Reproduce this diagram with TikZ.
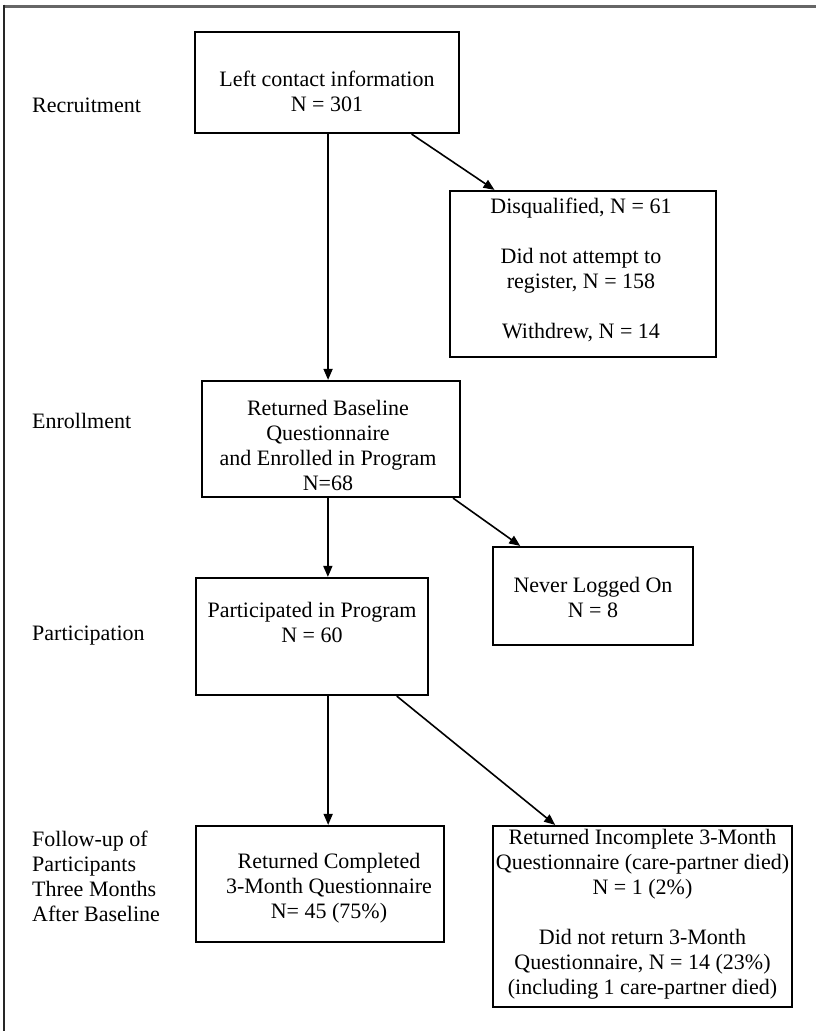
\documentclass[tikz,border=0pt]{standalone}
\usepackage{fontspec}
\setmainfont{Liberation Serif}
\usetikzlibrary{calc,arrows.meta}
\begin{document}
\begin{tikzpicture}[x=1pt,y=-1pt,
  every node/.style={font=\fontsize{22}{25}\selectfont, inner sep=0pt},
  box/.style={draw=black, line width=2.2pt, rectangle},
  txt/.style={align=center},
  side/.style={anchor=west, align=left},
  arr/.style={line width=1.6pt, -{Triangle[length=11pt,width=9pt]}}]
\useasboundingbox (0,0) rectangle (816,1031);
\fill[white] (0,0) rectangle (816,1031);
\draw[line width=3pt, draw=gray!80!black] (4,6) -- (816,6);
\draw[line width=2pt, draw=black!85] (4,4.5) -- (4,1031);

\node[box, minimum width=264pt, minimum height=101pt,
  label={[txt,yshift=-9pt]center:{Left contact information\\N = 301}}] (b1) at (327,82.5) {};
\node[box, minimum width=266pt, minimum height=166pt,
  label={[txt,xshift=-2pt,yshift=4pt]center:{Disqualified, N = 61\\[25pt]Did not attempt to\\register, N = 158\\[25pt]Withdrew, N = 14}}] (b2) at (583,274) {};
\node[box, minimum width=258pt, minimum height=116pt,
  label={[txt,xshift=-3pt,yshift=-6.5pt]center:{Returned Baseline\\Questionnaire\\and Enrolled in Program\\N=68}}] (b3) at (331,439) {};
\node[box, minimum width=200pt, minimum height=98pt,
  label={[txt,yshift=-1.5pt]center:{Never Logged On\\N = 8}}] (b3n) at (593,596) {};
\node[box, minimum width=232pt, minimum height=117pt,
  label={[txt,yshift=14pt]center:{Participated in Program\\N = 60}}] (b4) at (312,636.5) {};
\node[box, minimum width=248pt, minimum height=116pt,
  label={[txt,xshift=9pt,yshift=-4.5pt]center:{Returned Completed\\3-Month Questionnaire\\N= 45 (75\%)}}] (b5) at (320,884) {};
\node[box, minimum width=299pt, minimum height=181pt,
  label={[txt,yshift=2.5pt]center:{Returned Incomplete 3-Month\\Questionnaire (care-partner died)\\N = 1 (2\%)\\[25pt]Did not return 3-Month\\Questionnaire, N = 14 (23\%)\\(including 1 care-partner died)}}] (b6) at (642.5,916.5) {};

\node[side] (lr) at (32,105) {Recruitment};
\node[side] (le) at (32,421) {Enrollment};
\node[side] (lp) at (32,636) {Participation};
\node[side] (lf) at (32,876.5) {Follow-up of\\Participants\\Three Months\\After Baseline};

\coordinate (s1) at ($(b1.south west)!0.504!(b1.south east)$);
\coordinate (s2) at ($(b3.south west)!0.488!(b3.south east)$);
\coordinate (s3) at ($(b4.south west)!0.569!(b4.south east)$);
\draw[arr] (s1) -- (s1 |- b3.north);
\draw[arr] (s2) -- (s2 |- b4.north);
\draw[arr] (s3) -- (s3 |- b5.north);
\draw[arr] ($(b1.south west)!0.818!(b1.south east)$) -- ($(b2.north west)!0.17!(b2.north east)$);
\draw[arr] ($(b3.south west)!0.969!(b3.south east)$) -- ($(b3n.north west)!0.14!(b3n.north east)$);
\draw[arr] ($(b4.south west)!0.862!(b4.south east)$) -- ($(b6.north west)!0.21!(b6.north east)$);
\end{tikzpicture}
\end{document}
